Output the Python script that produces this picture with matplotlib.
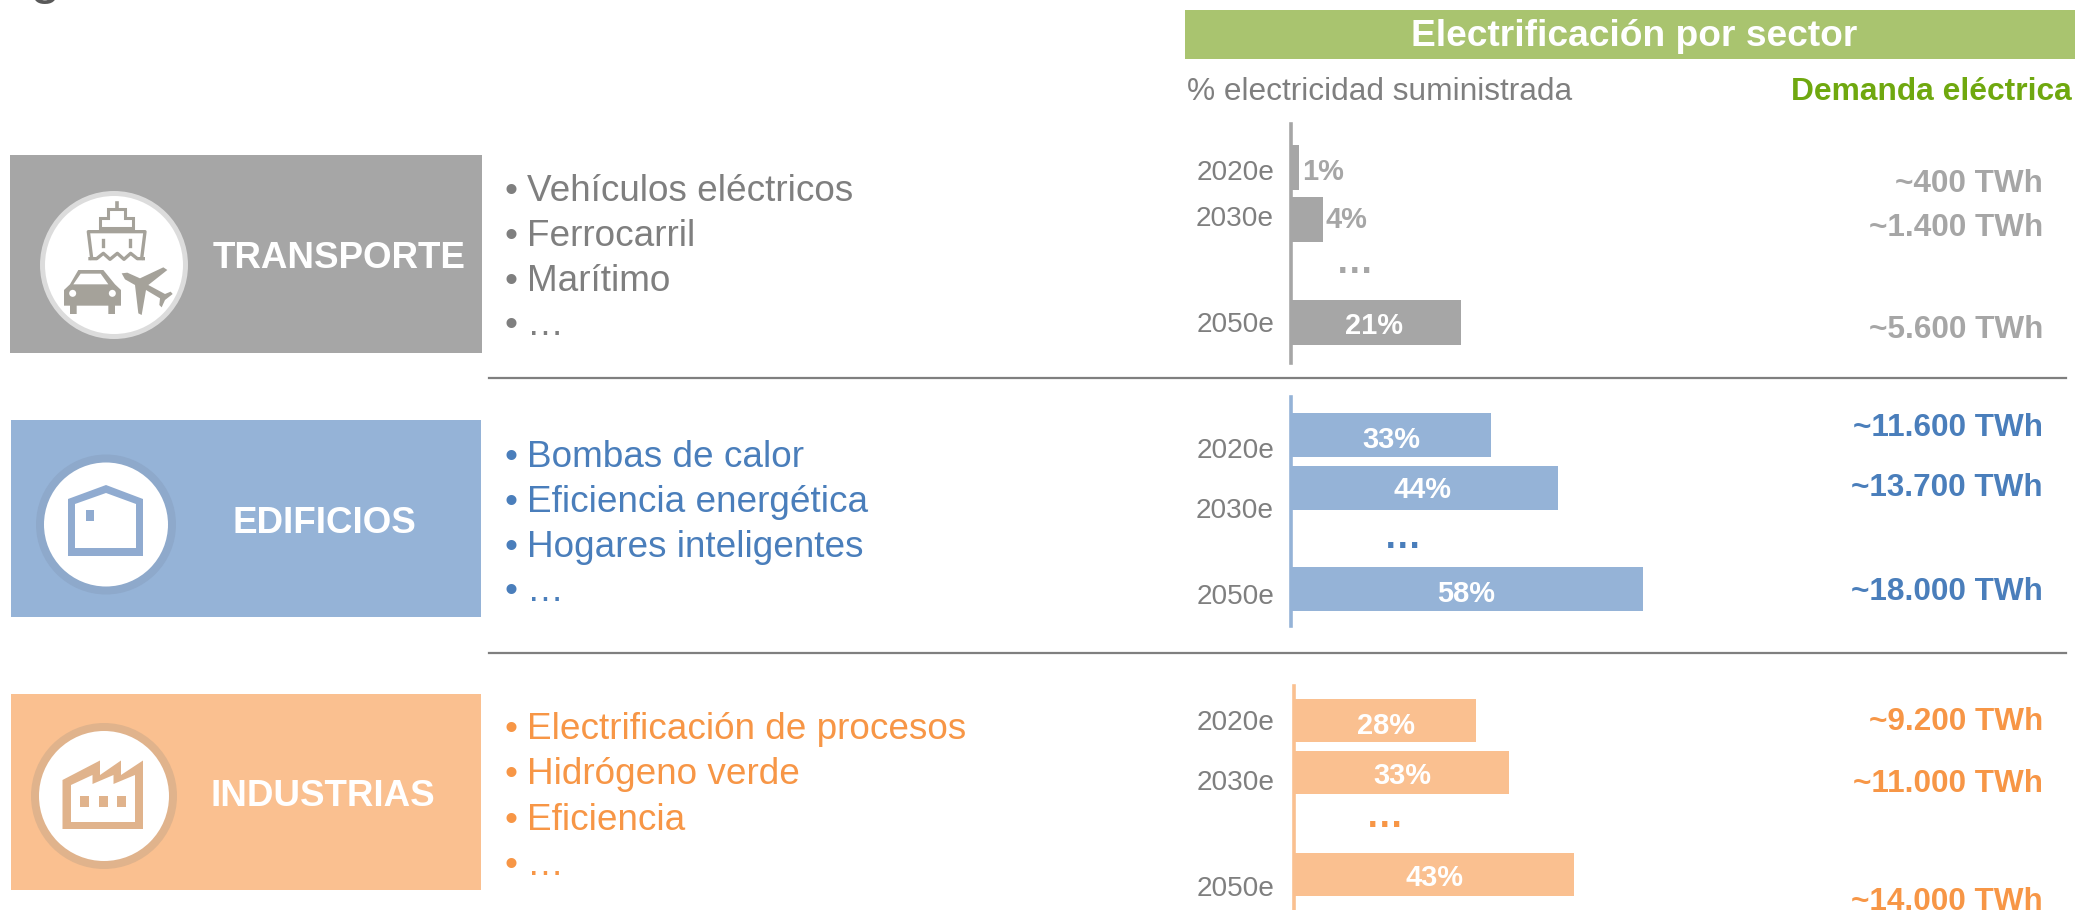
import matplotlib
matplotlib.use('Agg')
import matplotlib.pyplot as plt
from matplotlib.patches import Rectangle, Circle, Polygon

plt.rcParams['font.family'] = ['Liberation Sans', 'DejaVu Sans']

W, H = 2075, 910

# data
years = ['2020e', '2030e', '2050e']
transporte_pct = [1, 4, 21]
edificios_pct = [33, 44, 58]
industrias_pct = [28, 33, 43]
transporte_twh = ['~400 TWh', '~1.400 TWh', '~5.600 TWh']
edificios_twh = ['~11.600 TWh', '~13.700 TWh', '~18.000 TWh']
industrias_twh = ['~9.200 TWh', '~11.000 TWh', '~14.000 TWh']
transporte_items = ['Vehículos eléctricos', 'Ferrocarril', 'Marítimo', '…']
edificios_items = ['Bombas de calor', 'Eficiencia energética', 'Hogares inteligentes', '…']
industrias_items = ['Electrificación de procesos', 'Hidrógeno verde', 'Eficiencia', '…']

GREY, GREY_TXT, GREY_VAL = '#a6a6a6', '#7f7f7f', '#a6a6a6'
BLUE, BLUE_TXT = '#95b3d7', '#4a7ebb'
ORANGE, ORANGE_TXT = '#fac090', '#f79646'

fig = plt.figure(figsize=(W / 100, H / 100), dpi=100)


def bar_panel(values, x0, y0, y1, px_per_pct, centers, height, color):
    # axes placed in pixels, y axis in picture pixels, x axis in percent
    ax = fig.add_axes([x0 / W, 1 - y1 / H, (2066 - x0) / W, (y1 - y0) / H])
    ax.set_xlim(0, (2066 - x0) / px_per_pct)
    ax.set_ylim(y1, y0)
    ax.patch.set_visible(False)
    ax.barh(centers, values, height=height, color=color, linewidth=0)
    for s in ['top', 'right', 'bottom']:
        ax.spines[s].set_visible(False)
    ax.spines['left'].set_color(color)
    ax.spines['left'].set_linewidth(2.6)
    ax.set_xticks([])
    ax.set_yticks([])


bar_panel(transporte_pct, 1291, 124, 363, 8.1, [167.5, 219.5, 322.5], 45, GREY)
bar_panel(edificios_pct, 1291, 397, 626, 6.07, [435, 488, 588.5], 44, BLUE)
bar_panel(industrias_pct, 1294, 686, 910, 6.5, [720.5, 772, 874.5], 43, ORANGE)

# everything else sits on one full figure axes in picture pixels
pg = fig.add_axes([0, 0, 1, 1])
pg.set_xlim(0, W)
pg.set_ylim(H, 0)
pg.axis('off')


def txt(x, y, s, size, color, weight='normal', ha='center', va='center'):
    if va == 'center':
        y = y + 3.5  # matplotlib centres on the box with the descender
    pg.text(x, y, s, fontsize=size, color=color, fontweight=weight, ha=ha, va=va)


# cut off title at the top edge
txt(30, -8, 'g', 40, '#595959', ha='left', va='baseline')

# header
pg.add_patch(Rectangle((1185, 10), 890, 49, color='#a9c46f', lw=0))
txt(1634, 33, 'Electrificación por sector', 26.7, 'white', 'bold')
txt(1187, 100, '% electricidad suministrada', 22.8, GREY_TXT, ha='left', va='baseline')
txt(2072, 100, 'Demanda eléctrica', 22.9, '#6fa80f', 'bold', ha='right', va='baseline')

# sector blocks
pg.add_patch(Rectangle((10, 155), 472, 198, color=GREY, lw=0))
pg.add_patch(Rectangle((11, 420), 470, 197, color=BLUE, lw=0))
pg.add_patch(Rectangle((11, 694), 470, 196, color=ORANGE, lw=0))
txt(339, 255, 'TRANSPORTE', 26.5, 'white', 'bold')
txt(324, 520, 'EDIFICIOS', 26.5, 'white', 'bold')
txt(323, 793, 'INDUSTRIAS', 26.5, 'white', 'bold')

# circles
pg.add_patch(Circle((114, 265), 74, color='#dcdcdc', lw=0))
pg.add_patch(Circle((114, 265), 69, color='white', lw=0))
pg.add_patch(Circle((106, 524.5), 70, color='#8ea9cb', lw=0))
pg.add_patch(Circle((106, 524.5), 62, color='white', lw=0))
pg.add_patch(Circle((104, 796), 73, color='#e0b38c', lw=0))
pg.add_patch(Circle((104, 796), 65, color='white', lw=0))

ICON = '#a5a29a'


def ic(points):
    # icon outline, traced on a 3x crop starting at (40, 190)
    return [(40 + px / 3, 190 + py / 3) for px, py in points]


# ship
pg.add_patch(Polygon(ic([(205, 58), (255, 58), (255, 85), (280, 85), (280, 115), (180, 115),
                         (180, 85), (205, 85)]), fc='white', ec=ICON, lw=2.2))
pg.plot(*zip(*ic([(232, 40), (232, 58)])), color=ICON, lw=2.6)
pg.plot(*zip(*ic([(155, 205), (145, 125), (315, 125), (305, 205)])), color=ICON, lw=2.4)
pg.plot(*zip(*ic([(190, 150), (190, 168)])), color=ICON, lw=2.4)
pg.plot(*zip(*ic([(270, 150), (270, 168)])), color=ICON, lw=2.4)
pg.plot(*zip(*ic([(150, 206), (170, 206), (190, 190), (210, 208), (232, 190), (252, 208),
                  (272, 190), (292, 206), (310, 206)])), color=ICON, lw=2.4)
# car
pg.add_patch(Polygon(ic([(115, 240), (190, 240), (225, 283), (243, 300), (243, 347), (225, 347),
                         (225, 372), (205, 372), (205, 347), (110, 347), (110, 372), (90, 372),
                         (90, 347), (72, 347), (72, 300), (90, 283)]), fc=ICON, lw=0))
pg.add_patch(Polygon(ic([(122, 251), (182, 251), (205, 283), (100, 283)]), fc='white', lw=0))
pg.add_patch(Circle(ic([(98, 310)])[0], 3.5, color='white', lw=0))
pg.add_patch(Circle(ic([(217, 310)])[0], 3.5, color='white', lw=0))
# plane
pg.add_patch(Polygon(ic([(245, 250), (262, 248), (300, 265), (370, 232), (382, 240), (325, 285),
                         (375, 312), (392, 305), (398, 312), (375, 330), (365, 352), (358, 345),
                         (360, 325), (318, 300), (305, 375), (295, 370), (285, 285),
                         (255, 268)]), fc=ICON, lw=0))

# house icon
pg.add_patch(Polygon([(68, 499), (106, 485), (143, 499), (143, 556), (68, 556)], fc='#90abd0', lw=0))
pg.add_patch(Polygon([(75, 504), (106, 493), (136, 504), (136, 548), (75, 548)], fc='white', lw=0))
pg.add_patch(Rectangle((85.5, 510), 8, 11, fc='#90abd0', lw=0))

# factory icon
pg.add_patch(Polygon([(62.5, 780), (100, 760.5), (100, 775), (121, 760.5), (121, 775), (143, 760.5),
                      (143, 829), (62.5, 829)], fc='#e0b38c', lw=0))
pg.add_patch(Polygon([(71, 785), (92.5, 775), (92.5, 784), (113.5, 775), (113.5, 784), (135, 775),
                      (135, 822), (71, 822)], fc='white', lw=0))
for wx in [80, 99, 117]:
    pg.add_patch(Rectangle((wx, 796), 9, 11, fc='#e0b38c', lw=0))

# separators
pg.plot([489, 2066], [378, 378], color='#7f7f7f', lw=1.6)
pg.plot([489, 2066], [653, 653], color='#7f7f7f', lw=1.6)


def bullets(items, baselines, color):
    for s, y in zip(items, baselines):
        txt(504, y, '•', 26.6, color, ha='left', va='baseline')
        txt(527, y, s, 26.6, color, ha='left', va='baseline')


bullets(transporte_items, [201, 246, 291, 335], GREY_TXT)
bullets(edificios_items, [467, 512, 557, 601], BLUE_TXT)
bullets(industrias_items, [739, 784, 830, 875], ORANGE_TXT)


def year_labels(ys, x):
    for s, y in zip(years, ys):
        txt(x, y, s, 20.2, GREY_TXT, ha='right')


year_labels([169, 215, 322], 1274)
year_labels([447, 508, 594], 1274)
year_labels([719, 779, 886], 1275)


def twh_labels(labels, ys, color):
    for s, y in zip(labels, ys):
        txt(2043, y, s, 22.7, color, 'bold', ha='right')


twh_labels(transporte_twh, [180, 225, 326], GREY_VAL)
twh_labels(edificios_twh, [425, 484, 589], BLUE_TXT)
twh_labels(industrias_twh, [718, 780, 898], ORANGE_TXT)


def pct_labels(values, xs, ys, colors):
    for v, x, y, c in zip(values, xs, ys, colors):
        txt(x, y, '%d%%' % v, 20.9, c, 'bold')


pct_labels(transporte_pct, [1323, 1346, 1374], [169, 217, 323], [GREY_VAL, GREY_VAL, 'white'])
pct_labels(edificios_pct, [1391, 1423, 1466], [437, 487, 591], ['white'] * 3)
pct_labels(industrias_pct, [1386, 1402, 1435], [722, 773, 875], ['white'] * 3)

# ... between 2030 and 2050
txt(1355, 273, '…', 27, GREY_VAL, 'bold', va='baseline')
txt(1403, 548, '…', 27, BLUE_TXT, 'bold', va='baseline')
txt(1385, 827, '…', 27, ORANGE_TXT, 'bold', va='baseline')

fig.savefig('out.png', dpi=100)
